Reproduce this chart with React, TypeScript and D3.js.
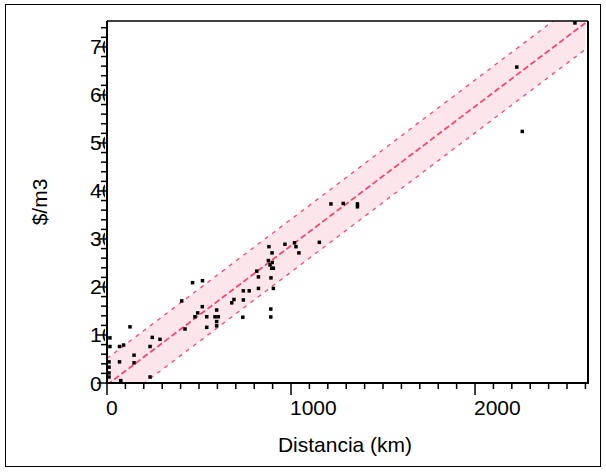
import React from "react";
import * as d3 from "d3";

// Observed points: distance (km), cost ($/m3)
const distKm = [16, 16, 11, 11, 11, 11, 75, 68, 68, 90, 125, 147, 147, 234, 246, 288, 234,
  406, 424, 465, 519, 478, 493, 518, 542, 542, 596, 587, 605, 596, 596,
  678, 690, 741, 741, 773, 738, 814, 823, 823, 880, 897, 877, 886, 898, 895, 904, 891, 904, 890, 890,
  967, 1019, 1027, 1043, 1154, 1217, 1284, 1361, 1361, 2227, 2257, 2543];
const costM3 = [9.4, 7.6, 4.4, 3.3, 2.1, 1.25, 0.5, 4.4, 7.6, 7.9, 11.7, 5.8, 4.2, 7.6, 9.5, 9.1, 1.25,
  17.1, 11.25, 20.9, 21.3, 13.8, 14.6, 15.9, 13.8, 11.6, 15.2, 13.8, 13.8, 12.8, 11.9,
  16.7, 17.4, 17.3, 19.2, 19.2, 13.7, 23.3, 22.1, 19.7, 28.4, 27.1, 25.5, 24.6, 25.1, 23.9, 23.9, 21.9, 19.7, 15.4, 13.75,
  28.9, 29.2, 28.4, 27.1, 29.3, 37.3, 37.4, 37.3, 36.7, 65.8, 52.4, 75.0];

const xTicksMajor = [0, 1000, 2000];
const yTicksMajor = [0, 10, 20, 30, 40, 50, 60, 70];
const xLabels = ["0", "1000", "2000"];
const yLabels = ["0", "10", "20", "30", "40", "50", "60", "70"];

// Fitted line and band
const fitIntercept = -0.4;
const fitSlope = 0.029;
const bandHalf = 5.5;

const X_MAX = 2614;
const Y_MAX = 75.4;

export default function App() {
  const L = 107, R = 588, T = 21, B = 383;
  const x = d3.scaleLinear().domain([0, X_MAX]).range([L, R]);
  const y = d3.scaleLinear().domain([0, Y_MAX]).range([B, T]);
  const font = "Arial, 'Liberation Sans', sans-serif";
  const fs = 21;

  const xs = d3.range(0, X_MAX + 1, 20);
  const fit = (d: number) => fitIntercept + fitSlope * d;
  const area = d3.area<number>().x(d => x(d)).y0(d => y(fit(d) - bandHalf)).y1(d => y(fit(d) + bandHalf));
  const line = (off: number) => d3.line<number>().x(d => x(d)).y(d => y(fit(d) + off))(xs) || "";

  const xMinor = d3.range(0, 2601, 100);
  const yMinor = d3.range(0, 75, 2);

  const red = "#ef4a6e";

  return (
    <svg width={606} height={473} style={{ position: "absolute", left: 0, top: 0, background: "#fff" }}>
      <defs>
        <clipPath id="plot"><rect x={L} y={T} width={R - L} height={B - T} /></clipPath>
        <clipPath id="ylab"><rect x={0} y={0} width={105} height={473} /></clipPath>
      </defs>
      <rect x={5.5} y={4.5} width={595} height={462} fill="#fff" stroke="#000" strokeWidth={1} />
      <g clipPath="url(#plot)">
        <path d={area(xs) || ""} fill="#fde6eb" />
        <path d={line(bandHalf)} fill="none" stroke={red} strokeWidth={1.3} strokeDasharray="4 5" />
        <path d={line(-bandHalf)} fill="none" stroke={red} strokeWidth={1.3} strokeDasharray="4 5" />
        <path d={line(0)} fill="none" stroke={red} strokeWidth={1.8} strokeDasharray="6 3" />
        {distKm.map((d, i) => (
          <rect key={i} x={x(d) - 1.75} y={y(costM3[i]) - 1.75} width={3.5} height={3.5} fill="#000" />
        ))}
      </g>
      {/* frame */}
      <line x1={L} x2={R} y1={T} y2={T} stroke="#000" strokeWidth={1.5} />
      <line x1={R} x2={R} y1={T} y2={B} stroke="#000" strokeWidth={2} />
      <line x1={L} x2={L} y1={T} y2={B + 1} stroke="#000" strokeWidth={2} />
      <line x1={L - 1} x2={R + 1} y1={B} y2={B} stroke="#000" strokeWidth={2} />
      {/* x ticks */}
      {xMinor.map(v => (
        <line key={"xm" + v} x1={x(v)} x2={x(v)} y1={B} y2={B + (v % 1000 === 0 ? 12 : 6)} stroke="#000" strokeWidth={1.5} />
      ))}
      {xTicksMajor.map((v, i) => (
        <text key={"xl" + v} x={x(v) - 1} y={415} fontFamily={font} fontSize={fs} fill="#000">{xLabels[i]}</text>
      ))}
      {/* y ticks */}
      {yMinor.map(v => (
        <line key={"ym" + v} x1={L - (v % 10 === 0 ? 10 : 6)} x2={L} y1={y(v)} y2={y(v)} stroke="#000" strokeWidth={1.5} />
      ))}
      <g clipPath="url(#ylab)">
        {yTicksMajor.map((v, i) => (
          <text key={"yl" + v} x={90} y={y(v) + 7.5} fontFamily={font} fontSize={fs} fill="#000">{yLabels[i]}</text>
        ))}
      </g>
      <text x={345} y={452} textAnchor="middle" fontFamily={font} fontSize={fs} fill="#000">Distancia (km)</text>
      <text transform="translate(47,202) rotate(-90)" textAnchor="middle" fontFamily={font} fontSize={fs} fill="#000">$/m3</text>
    </svg>
  );
}
